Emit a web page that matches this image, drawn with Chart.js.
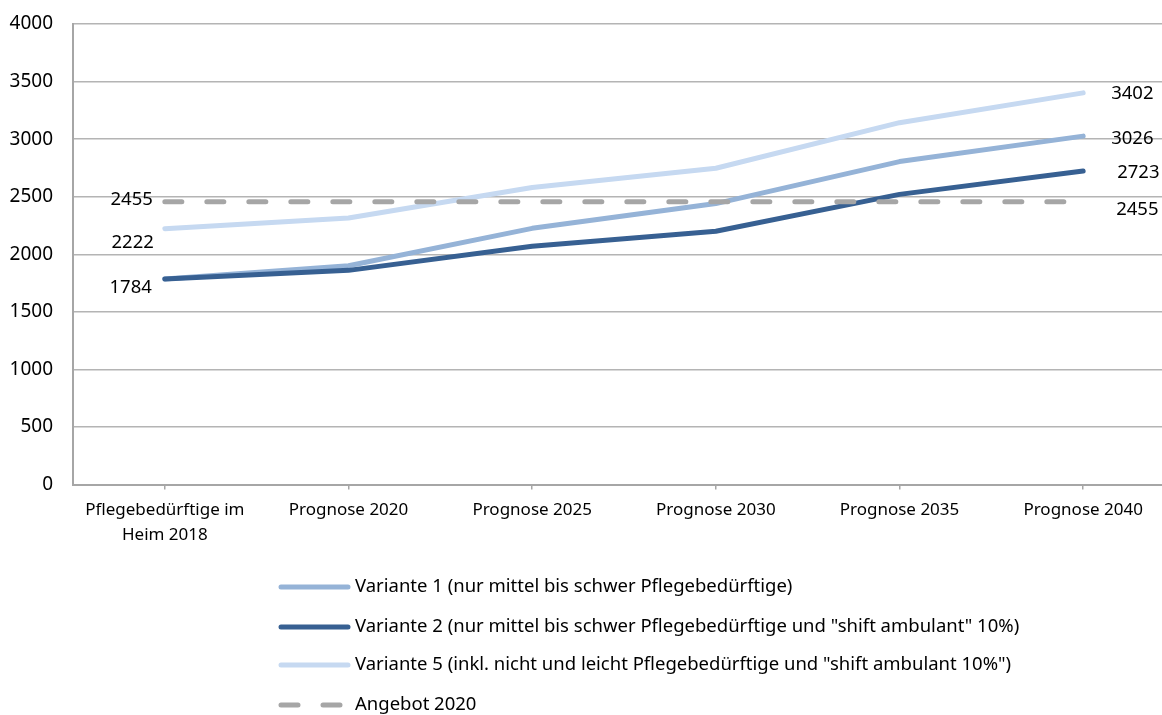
<!DOCTYPE html>
<html>
<head>
<meta charset="utf-8">
<script src="https://cdn.jsdelivr.net/npm/chart.js@4.4.1/dist/chart.umd.min.js"></script>
<style>
  html, body { margin: 0; padding: 0; background: #fff; overflow: hidden; }
  #wrap { position: relative; width: 1175px; height: 715px; }
</style>
</head>
<body>
<div id="wrap"><canvas id="c"></canvas></div>
<script>
const categories = [["Pflegebedürftige im", "Heim 2018"], "Prognose 2020", "Prognose 2025", "Prognose 2030", "Prognose 2035", "Prognose 2040"];
const variante1 = [1784, 1900, 2225, 2440, 2805, 3026];
const variante2 = [1784, 1860, 2070, 2200, 2520, 2723];
const variante5 = [2222, 2315, 2580, 2747, 3143, 3402];
const angebot2020 = [2455, 2455, 2455, 2455, 2455, 2455];
const yTicks = [0, 500, 1000, 1500, 2000, 2500, 3000, 3500, 4000];
const seriesNames = [
  'Variante 1 (nur mittel bis schwer Pflegebedürftige)',
  'Variante 2 (nur mittel bis schwer Pflegebedürftige und "shift ambulant" 10%)',
  'Variante 5 (inkl. nicht und leicht Pflegebedürftige und "shift ambulant 10%")',
  'Angebot 2020'
];

const FONT = '"Noto Sans", "Open Sans", sans-serif';
const FS = 18.5;

// data label placement (style only): dataset index, point index, offsets, alignment
const labelSpecs = [
  {ds: 3, i: 0, dx: -12, dy: -2, align: 'right'},
  {ds: 2, i: 0, dx: -11, dy: 14, align: 'right'},
  {ds: 1, i: 0, dx: -13, dy: 9, align: 'right'},
  {ds: 2, i: 5, dx: 28, dy: 1, align: 'left'},
  {ds: 0, i: 5, dx: 28, dy: 3, align: 'left'},
  {ds: 1, i: 5, dx: 34, dy: 2, align: 'left'},
  {ds: 3, i: 5, dx: 33, dy: 8, align: 'left'}
];

const dataLabels = {
  id: 'dataLabels',
  afterDatasetsDraw(chart) {
    const ctx = chart.ctx;
    ctx.save();
    ctx.font = FS + 'px ' + FONT;
    ctx.fillStyle = '#000';
    ctx.textBaseline = 'middle';
    labelSpecs.forEach(s => {
      const pt = chart.getDatasetMeta(s.ds).data[s.i];
      const v = chart.data.datasets[s.ds].data[s.i];
      ctx.textAlign = s.align;
      ctx.fillText(String(v), pt.x + s.dx, pt.y + s.dy);
    });
    ctx.restore();
  }
};

const customLegend = {
  id: 'customLegend',
  afterDraw(chart) {
    const ctx = chart.ctx;
    const x0 = 281, x1 = 348, tx = 355;
    const rows = [587, 627, 665, 705];
    ctx.save();
    ctx.font = '18.5px ' + FONT;
    ctx.textBaseline = 'middle';
    ctx.textAlign = 'left';
    chart.data.datasets.forEach((ds, k) => {
      const y = rows[k];
      ctx.beginPath();
      ctx.strokeStyle = ds.borderColor;
      ctx.lineWidth = ds.borderWidth;
      ctx.lineCap = 'round';
      ctx.setLineDash(ds.borderDash || []);
      ctx.moveTo(x0, y);
      ctx.lineTo(x1, y);
      ctx.stroke();
      ctx.setLineDash([]);
      ctx.fillStyle = '#000';
      ctx.fillText(ds.label, tx, y);
    });
    ctx.restore();
  }
};

new Chart(document.getElementById('c'), {
  type: 'line',
  data: {
    labels: categories,
    datasets: [
      {label: seriesNames[0], data: variante1, borderColor: '#95B3D7', borderWidth: 5, order: 2},
      {label: seriesNames[1], data: variante2, borderColor: '#376092', borderWidth: 5, order: 1},
      {label: seriesNames[2], data: variante5, borderColor: '#C6D9F1', borderWidth: 5, order: 3},
      {label: seriesNames[3], data: angebot2020, borderColor: '#A6A6A6', borderWidth: 5, borderDash: [17, 25], order: 0}
    ]
  },
  options: {
    responsive: true,
    maintainAspectRatio: false,
    animation: false,
    devicePixelRatio: 1,
    layout: { padding: { top: 24, left: 0, right: 0, bottom: 0 } },
    elements: {
      line: { tension: 0, borderCapStyle: 'round', borderJoinStyle: 'round', fill: false },
      point: { radius: 0, hoverRadius: 0 }
    },
    plugins: { legend: { display: false }, tooltip: { enabled: false } },
    scales: {
      x: {
        offset: true,
        grid: { display: true, offset: false, drawOnChartArea: false, drawTicks: true, tickLength: 5, color: '#A6A6A6', lineWidth: 1.5 },
        border: { display: true, color: '#A6A6A6', width: 2 },
        ticks: { color: '#000', font: { family: FONT, size: 17, lineHeight: 1.42 }, padding: 9, maxRotation: 0, autoSkip: false },
        afterFit(scale) { scale.height = 715 - 484.5; scale.paddingTop = 0; scale.paddingBottom = 0; }
      },
      y: {
        min: 0, max: 4000,
        afterBuildTicks(scale) { scale.ticks = yTicks.map(v => ({value: v})); },
        grid: { color: '#B4B4B4', lineWidth: 1.5, drawTicks: false },
        border: { display: true, color: '#A6A6A6', width: 2 },
        ticks: { color: '#000', font: { family: FONT, size: 19 }, padding: 20, callback: v => String(v) },
        afterFit(scale) { scale.width = 73; scale.paddingTop = 0; scale.paddingBottom = 0; }
      }
    }
  },
  plugins: [dataLabels, customLegend]
});
</script>
</body>
</html>
